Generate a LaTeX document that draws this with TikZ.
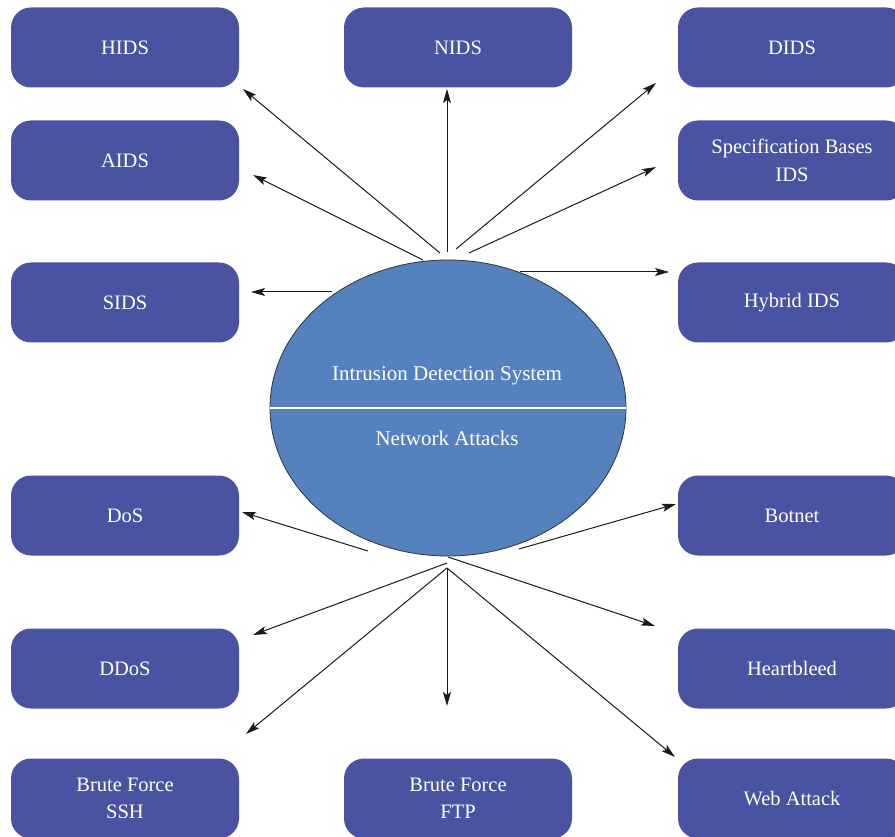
\documentclass[tikz,border=0pt]{standalone}
\usepackage{fontspec}
\setmainfont{Liberation Serif}
\usetikzlibrary{arrows.meta,shapes.geometric}
\definecolor{boxblue}{HTML}{4A53A1}
\definecolor{ellblue}{HTML}{5581BF}
\definecolor{arrowc}{HTML}{1A1A1A}
\begin{document}
\begin{tikzpicture}[x=1pt,y=-1pt,
  box/.style={rounded corners=20pt, fill=boxblue, minimum width=228pt, minimum height=80pt,
    text=white, font=\fontsize{20.5}{27.5}\selectfont, align=center, inner sep=0pt},
  arr/.style={draw=arrowc, line width=1pt, -{Stealth[length=14pt,width=8pt,inset=3pt]}},
  lbl/.style={text=white, font=\fontsize{21}{28}\selectfont, anchor=base, inner sep=0pt}]
\clip (0,0) rectangle (895,837);
\useasboundingbox (0,0) rectangle (895,837);
% boxes
\node[box] (hids) at (125,47.5) {HIDS};
\node[box] (nids) at (458,47.5) {NIDS};
\node[box] (dids) at (792,47.5) {DIDS};
\node[box] (aids) at (125,160.5) {AIDS};
\node[box] (spec) at (792,160.5) {Specification Bases\\IDS};
\node[box] (sids) at (125,302.5) {SIDS};
\node[box] (hyb) at (792,302.5) {Hybrid IDS};
\node[box] (dos) at (125,515.5) {DoS};
\node[box] (bot) at (792,515.5) {Botnet};
\node[box] (ddos) at (125,668.5) {DDoS};
\node[box] (heart) at (792,668.5) {Heartbleed};
\node[box] (ssh) at (125,798.5) {Brute Force\\SSH};
\node[box] (ftp) at (458,798.5) {Brute Force\\FTP};
\node[box] (web) at (792,798.5) {Web Attack};
% ellipse
\node[ellipse, draw=black!80, line width=0.8pt, fill=ellblue, minimum width=356pt, minimum height=296pt, inner sep=0pt] (ids) at (448,408) {};
\draw[white, line width=1.3pt] (ids.west) -- (ids.east);
\node[lbl] (idsl) at (447,381) {Intrusion Detection System};
\node[lbl] (nal) at (447,445) {Network Attacks};
% arrow start / end points
\coordinate (s-hids) at (440,253); \coordinate (e-hids) at (243,89);
\coordinate (s-aids) at (423,260); \coordinate (e-aids) at (253,175);
\coordinate (s-nids) at (447,252); \coordinate (e-nids) at (447,89);
\coordinate (s-dids) at (456,249); \coordinate (e-dids) at (656,83);
\coordinate (s-spec) at (469,253); \coordinate (e-spec) at (656,167);
\coordinate (s-hyb) at (520,272); \coordinate (e-hyb) at (669,272);
\coordinate (s-sids) at (332,292); \coordinate (e-sids) at (251,292);
\coordinate (s-dos) at (368,551); \coordinate (e-dos) at (242,512);
\coordinate (s-bot) at (519,549); \coordinate (e-bot) at (676,504);
\coordinate (s-heart) at (448,557); \coordinate (e-heart) at (655,626);
\coordinate (s-ddos) at (447,563); \coordinate (e-ddos) at (253,635);
\coordinate (s-low) at (447,568);
\coordinate (e-ssh) at (246,734);
\coordinate (e-ftp) at (447,706);
\coordinate (e-web) at (675,757);
% arrows
\draw[arr] (s-hids) -- (e-hids);
\draw[arr] (s-aids) -- (e-aids);
\draw[arr] (s-nids) -- (e-nids);
\draw[arr] (s-dids) -- (e-dids);
\draw[arr] (s-spec) -- (e-spec);
\draw[arr] (s-hyb) -- (e-hyb);
\draw[arr] (s-sids) -- (e-sids);
\draw[arr] (s-dos) -- (e-dos);
\draw[arr] (s-bot) -- (e-bot);
\draw[arr] (s-heart) -- (e-heart);
\draw[arr] (s-ddos) -- (e-ddos);
\draw[arr] (s-low) -- (e-ssh);
\draw[arr] (s-low) -- (e-ftp);
\draw[arr] (s-low) -- (e-web);
\end{tikzpicture}
\end{document}
